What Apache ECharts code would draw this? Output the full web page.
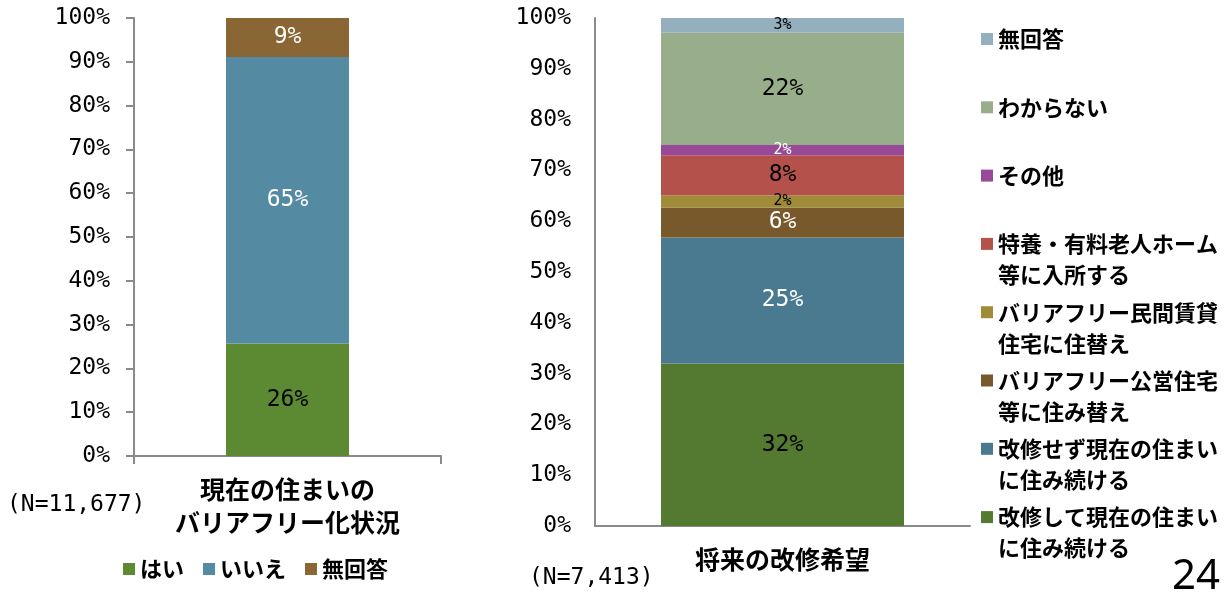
<!DOCTYPE html>
<html><head><meta charset="utf-8">
<script src="https://cdn.jsdelivr.net/npm/echarts@6/dist/echarts.min.js"></script>
<style>html,body{margin:0;padding:0;background:#fff}#c{width:1227px;height:595px}</style>
</head><body><div id="c"></div>
<script>
// ---- data ----
const leftCategories = ['現在の住まいの\nバリアフリー化状況'];
const leftSeriesNames = ['はい', 'いいえ', '無回答'];
const leftValues = [25.7, 65.4, 8.9];
const leftN = '(N=11,677)';

const rightCategories = ['将来の改修希望'];
const rightSeriesNames = [
  '改修して現在の住まい\nに住み続ける',
  '改修せず現在の住まい\nに住み続ける',
  'バリアフリー公営住宅\n等に住み替え',
  'バリアフリー民間賃貸\n住宅に住替え',
  '特養・有料老人ホーム\n等に入所する',
  'その他',
  'わからない',
  '無回答'
];
const rightValues = [32.0, 24.8, 5.9, 2.4, 7.9, 2.0, 22.1, 2.9];
const rightN = '(N=7,413)';
const pageNumber = '24';

// ---- styles ----
const leftColors = ['#5B8A32', '#548BA3', '#896633'];
const leftLabelColors = ['#000', '#fff', '#fff'];
const rightColors = ['#537A30', '#4A7A8F', '#78592B', '#A08B38', '#B4514B', '#984A98', '#98AD89', '#94B0BF'];
const rightLabelColors = ['#000', '#fff', '#fff', '#000', '#000', '#fff', '#000', '#000'];
const rightLabelSizes = [23, 23, 23, 15, 23, 15, 23, 15];

const MONO = 'DejaVu Sans Mono';
const CJK = '"Noto Sans CJK JP", "Noto Sans", sans-serif';
const axisColor = '#8a8a8a';

const chart = echarts.init(document.getElementById('c'), null, {renderer: 'canvas'});

function yAxisFor(gi, ticks) {
  return {
    type: 'value', gridIndex: gi, min: 0, max: 100, interval: 10,
    axisLine: {show: true, lineStyle: {color: axisColor, width: 2}},
    axisTick: {show: ticks, length: 8, inside: false, lineStyle: {color: axisColor, width: 2}},
    splitLine: {show: false},
    axisLabel: {formatter: '{value}%', color: '#000', fontFamily: MONO, fontSize: 23, margin: 24}
  };
}
function xAxisFor(gi, cats, ticks) {
  return {
    type: 'category', gridIndex: gi, data: cats,
    axisLine: {show: true, lineStyle: {color: axisColor, width: 2}},
    axisTick: {show: ticks, length: 8, lineStyle: {color: axisColor, width: 2}},
    axisLabel: {color: '#000', fontFamily: CJK, fontWeight: 'bold', fontSize: 25, lineHeight: 33, margin: 17}
  };
}

const series = [];
leftSeriesNames.forEach((n, i) => {
  series.push({
    name: n, type: 'bar', stack: 'L', xAxisIndex: 0, yAxisIndex: 0, barWidth: 123,
    data: [leftValues[i]],
    itemStyle: {color: leftColors[i]},
    label: {show: true, position: 'inside', formatter: p => Math.round(p.value) + '%',
      color: leftLabelColors[i], fontFamily: MONO, fontSize: 23}
  });
});
rightSeriesNames.forEach((n, i) => {
  series.push({
    name: 'R' + i, type: 'bar', stack: 'R', xAxisIndex: 1, yAxisIndex: 1, barWidth: 243,
    data: [rightValues[i]],
    itemStyle: {color: rightColors[i]},
    label: {show: true, position: 'inside', formatter: p => Math.round(p.value) + '%',
      color: rightLabelColors[i], fontFamily: MONO, fontSize: rightLabelSizes[i]}
  });
});

const legends = [{
  data: leftSeriesNames, orient: 'horizontal', left: 123, top: 556, padding: 0,
  itemWidth: 12, itemHeight: 12, itemGap: 19, icon: 'rect', selectedMode: false,
  textStyle: {color: '#000', fontFamily: CJK, fontWeight: 'bold', fontSize: 22, lineHeight: 26}
}];
const RL = 31;
for (let k = 0; k < rightSeriesNames.length; k++) {
  const idx = rightSeriesNames.length - 1 - k;
  const name = rightSeriesNames[idx];
  const twoLine = name.indexOf('\n') >= 0;
  const cy = 39 + k * 68.3;
  legends.push({
    data: ['R' + idx], orient: 'vertical', left: 981, top: twoLine ? cy - 1.5 * RL : cy - 0.5 * RL,
    padding: 0, itemWidth: 12, itemHeight: 12, icon: 'rect', selectedMode: false,
    formatter: () => (twoLine ? '\n' : '') + name,
    textStyle: {color: '#000', fontFamily: CJK, fontWeight: 'bold', fontSize: 22, lineHeight: RL}
  });
}

chart.setOption({
  backgroundColor: '#fff',
  animation: false,
  grid: [
    {left: 134, top: 18, width: 307, height: 438, containLabel: false, outerBoundsMode: 'none'},
    {left: 595, top: 18, width: 375, height: 508, containLabel: false, outerBoundsMode: 'none'}
  ],
  xAxis: [xAxisFor(0, leftCategories, true), xAxisFor(1, rightCategories, false)],
  yAxis: [yAxisFor(0, true), yAxisFor(1, false)],
  legend: legends,
  series: series,
  graphic: [
    {type: 'text', left: 7, top: 494, style: {text: leftN, font: '23px "' + MONO + '"', fill: '#000'}},
    {type: 'text', left: 529, top: 567, style: {text: rightN, font: '23px "' + MONO + '"', fill: '#000'}},
    {type: 'text', right: 7, top: 556, style: {text: pageNumber, font: '42px "Noto Sans"', fill: '#000'}}
  ]
});
</script>
</body></html>
